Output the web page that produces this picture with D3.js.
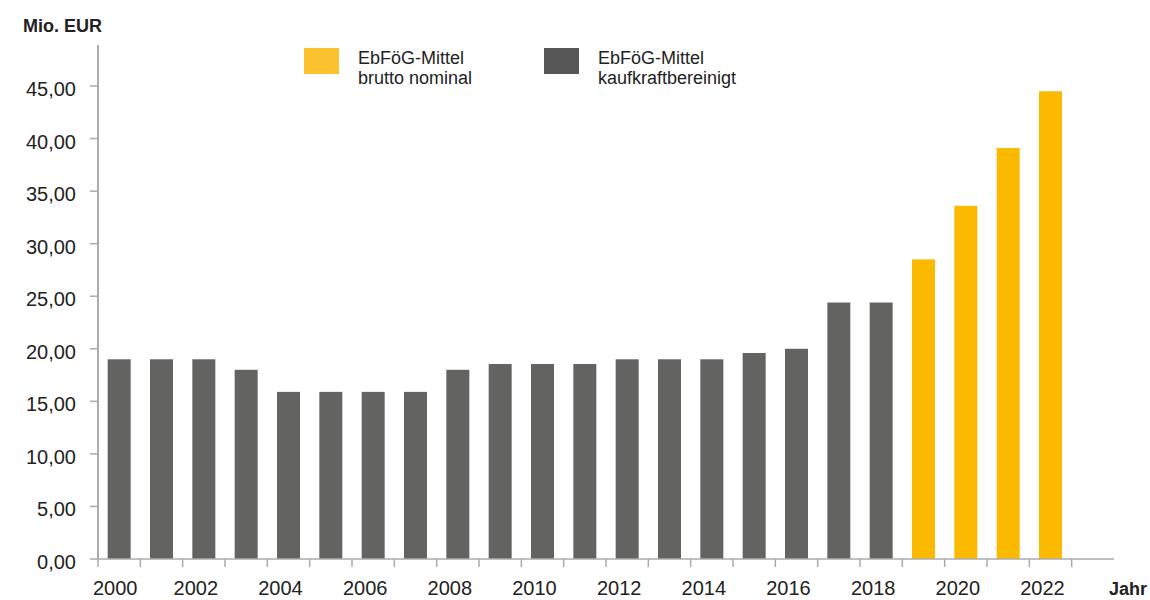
<!DOCTYPE html>
<html>
<head>
<meta charset="utf-8">
<script src="https://cdn.jsdelivr.net/npm/d3@7"></script>
<style>
  html, body { margin: 0; padding: 0; background: #fff; }
  svg { display: block; }
  text { font-family: "Liberation Sans", Arial, sans-serif; fill: #222; }
</style>
</head>
<body>
<svg id="chart" width="1150" height="600"></svg>
<script>
// ---- data ----
const years = [2000, 2001, 2002, 2003, 2004, 2005, 2006, 2007, 2008, 2009, 2010, 2011,
               2012, 2013, 2014, 2015, 2016, 2017, 2018, 2019, 2020, 2021, 2022];
const kaufkraftbereinigt = [19.0, 19.0, 19.0, 18.0, 15.9, 15.9, 15.9, 15.9, 18.0, 18.55, 18.55, 18.55,
                            19.0, 19.0, 19.0, 19.6, 20.0, 24.4, 24.4, null, null, null, null];
const bruttoNominal = [null, null, null, null, null, null, null, null, null, null, null, null,
                       null, null, null, null, null, null, null, 28.5, 33.6, 39.1, 44.5];
const yTicks = [0, 5, 10, 15, 20, 25, 30, 35, 40, 45];
const xLabelYears = [2000, 2002, 2004, 2006, 2008, 2010, 2012, 2014, 2016, 2018, 2020, 2022];
const seriesNames = [["EbFöG-Mittel", "brutto nominal"], ["EbFöG-Mittel", "kaufkraftbereinigt"]];
const yTitle = "Mio. EUR";
const xTitle = "Jahr";

(function () {
// ---- layout ----
const svg = d3.select("#chart");
const pLeft = 98, pRight = 1114, pBottom = 559, pTop = 86, axisTop = 45;
const colGray = "#636362", colYellow = "#FBB900";
const legGray = "#575757", legYellow = "#FCC12F";
const axisCol = "#ababab";

const domain = years.map(String).concat([String(years[years.length - 1] + 1)]);
const x = d3.scaleBand().domain(domain).range([pLeft, pRight]).paddingInner(0.457).paddingOuter(0.2285);
const y = d3.scaleLinear().domain([0, 45]).range([pBottom, pTop]);
const step = x.step();

// bars
const g = svg.append("g");
g.selectAll("rect.gray").data(years.map((yr, i) => ({yr, v: kaufkraftbereinigt[i]})).filter(d => d.v != null))
  .join("rect").attr("class", "gray")
  .attr("x", d => x(String(d.yr))).attr("width", x.bandwidth())
  .attr("y", d => y(d.v)).attr("height", d => y(0) - y(d.v))
  .attr("fill", colGray);
g.selectAll("rect.yel").data(years.map((yr, i) => ({yr, v: bruttoNominal[i]})).filter(d => d.v != null))
  .join("rect").attr("class", "yel")
  .attr("x", d => x(String(d.yr))).attr("width", x.bandwidth())
  .attr("y", d => y(d.v)).attr("height", d => y(0) - y(d.v))
  .attr("fill", colYellow);

// y axis
svg.append("line").attr("x1", pLeft).attr("x2", pLeft).attr("y1", axisTop).attr("y2", pBottom)
  .attr("stroke", axisCol).attr("stroke-width", 2);
const fmt = v => d3.format(".2f")(v).replace(".", ",");
yTicks.forEach(t => {
  svg.append("line").attr("x1", pLeft - 8).attr("x2", pLeft).attr("y1", y(t)).attr("y2", y(t))
    .attr("stroke", axisCol).attr("stroke-width", 1.5);
  svg.append("text").attr("x", 76).attr("y", y(t) + 10).attr("text-anchor", "end")
    .attr("font-size", 20).text(fmt(t));
});

// x axis
svg.append("line").attr("x1", pLeft).attr("x2", pRight).attr("y1", pBottom).attr("y2", pBottom)
  .attr("stroke", axisCol).attr("stroke-width", 1.5);
domain.forEach((d) => {
  const bx = x(d) - x.paddingInner() * step / 2;
  svg.append("line").attr("x1", bx).attr("x2", bx).attr("y1", pBottom).attr("y2", pBottom + 8)
    .attr("stroke", axisCol).attr("stroke-width", 1.5);
});
xLabelYears.forEach((yr) => {
  const cx = x(String(yr)) + x.bandwidth() / 2 - 8;
  const t = svg.append("text").attr("y", 595).attr("font-size", 20).attr("text-anchor", "middle").text(String(yr));
  const w = t.node().getComputedTextLength();
  t.attr("x", Math.max(cx, 93 + w / 2));
});

// titles
svg.append("text").attr("x", 23).attr("y", 32).attr("font-size", 18).attr("font-weight", "bold").text(yTitle);
svg.append("text").attr("x", 1109).attr("y", 595).attr("font-size", 18).attr("font-weight", "bold").text(xTitle);

// legend
const legend = [{x: 304, c: legYellow, t: seriesNames[0]}, {x: 544, c: legGray, t: seriesNames[1]}];
legend.forEach(l => {
  svg.append("rect").attr("x", l.x).attr("y", 48).attr("width", 35).attr("height", 26).attr("fill", l.c);
  const tx = svg.append("text").attr("x", l.x + 54).attr("y", 64).attr("font-size", 18);
  tx.append("tspan").attr("x", l.x + 54).attr("dy", 0).text(l.t[0]);
  tx.append("tspan").attr("x", l.x + 54).attr("dy", 20).text(l.t[1]);
});
})();
</script>
</body>
</html>
